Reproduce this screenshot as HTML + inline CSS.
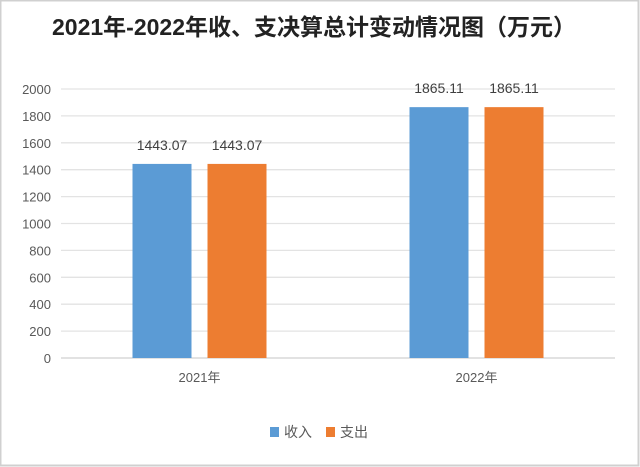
<!DOCTYPE html>
<html><head><meta charset="utf-8"><style>
body{margin:0;background:#fff;}
#wrap{position:relative;width:640px;height:467px;overflow:hidden;}
svg text{font-family:"Liberation Sans","Noto Sans CJK SC",sans-serif;}
</style></head><body>
<div id="wrap">
<svg id="chart" width="640" height="467">
<rect x="0.5" y="0.5" width="638" height="465" fill="#fff" stroke="#d0d0d0" stroke-width="2"/>
<text x="314" y="35" text-anchor="middle" font-size="23" font-weight="bold" fill="#222">2021年-2022年收、支决算总计变动情况图（万元）</text>
<g id="grid"></g><g id="bars"></g><g id="labels"></g>
<rect x="270" y="427" width="9" height="10" fill="#5b9bd5"/>
<text x="284" y="437" font-size="14" fill="#595959">收入</text>
<rect x="326" y="427" width="9" height="10" fill="#ed7d31"/>
<text x="340" y="437" font-size="14" fill="#595959">支出</text>
</svg></div>
<script>
const categories=["2021年","2022年"];
const income=[1443.07,1865.11];
const expense=[1443.07,1865.11];
const ticks=[0,200,400,600,800,1000,1200,1400,1600,1800,2000];
const NS="http://www.w3.org/2000/svg";
const L=61,R=615,Y0=358,Y1=89,MAX=2000;
const y=v=>Y0-(v/MAX)*(Y0-Y1);
const cw=(R-L)/categories.length;
const cx=i=>L+cw*(i+0.5);
function mk(t,a,p){const e=document.createElementNS(NS,t);for(const k in a)e.setAttribute(k,a[k]);p.appendChild(e);return e;}
const grid=document.getElementById('grid'),bars=document.getElementById('bars'),labels=document.getElementById('labels');
ticks.forEach(t=>{
 const l=mk('line',{x1:L,x2:R,y1:y(t),y2:y(t),stroke:t===0?'#d0d0d0':'#e3e3e3','stroke-width':1.3},grid);
 
 
 const tx=mk('text',{x:51,y:y(t)+5,'text-anchor':'end','font-size':13,fill:'#595959'},grid);
 tx.textContent=t;
 
 
});
const bw=59,gap=16;
categories.forEach((c,i)=>{
 const series=[[income[i],'#5b9bd5',cx(i)-gap/2-bw,'bar-income'],[expense[i],'#ed7d31',cx(i)+gap/2,'bar-expense']];
 series.forEach(s=>{
  const b=mk('rect',{x:s[2],y:y(s[0]),width:bw,height:Y0-y(s[0]),fill:s[1]},bars);
  
  
  const v=mk('text',{x:s[2]+bw/2,y:y(s[0])-14,'text-anchor':'middle','font-size':14,fill:'#404040'},labels);
  v.textContent=s[0].toFixed(2);
  
  
 });
 const ct=mk('text',{x:cx(i),y:382,'text-anchor':'middle','font-size':13,fill:'#595959'},labels);
 ct.textContent=c;
 
 
});
</script>
</body></html>
